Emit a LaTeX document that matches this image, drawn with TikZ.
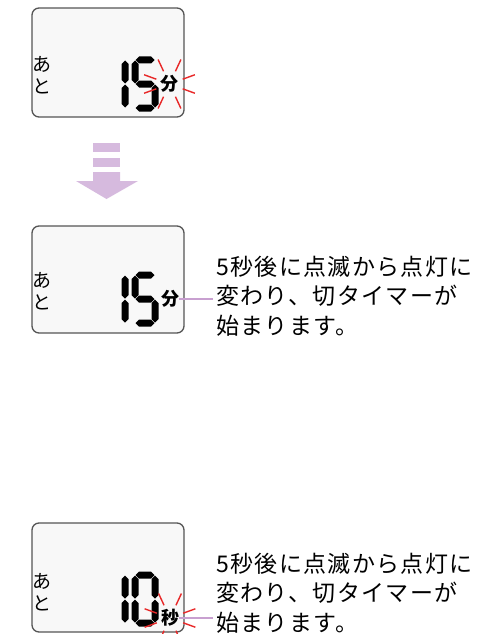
\documentclass[tikz,border=0pt]{standalone}
\usepackage{fontspec}
\newfontfamily\jpfont{Noto Sans CJK JP}
\newfontfamily\notefont[LetterSpace=6]{Noto Sans CJK JP}
\usetikzlibrary{positioning}

\definecolor{lcdline}{RGB}{85,85,85}
\definecolor{lcdfill}{RGB}{248,248,248}
\definecolor{blinkred}{RGB}{232,40,40}
\definecolor{stepmauve}{RGB}{214,186,222}
\definecolor{leadmauve}{RGB}{200,160,208}

% LCD segments: start (x,y), length
\newcommand{\lcdh}[3]{\fill ({#1+0.5},#2) -- ++(3.5,-3.5) -- ++({#3-8},0) -- ++(3.5,3.5) -- ++(-3.5,3.5) -- ++({8-#3},0) -- cycle;}
\newcommand{\lcdv}[3]{\fill (#1,{#2+0.5}) -- ++(3.5,3.5) -- ++(0,{#3-8}) -- ++(-3.5,3.5) -- ++(-3.5,-3.5) -- ++(0,{8-#3}) -- cycle;}

\begin{document}
\begin{tikzpicture}[
    x=1pt, y=-1pt,
    lcd/.style={draw=lcdline, line width=1.3pt, fill=lcdfill, rounded corners=7pt, minimum width=152pt, inner sep=0pt},
    ato/.style={font=\jpfont\fontsize{19}{22}\selectfont, align=center, inner sep=0pt},
    unit/.style={font=\jpfont\bfseries\fontsize{18}{18}\selectfont, inner sep=0pt},
    note/.style={font=\notefont\fontsize{23}{29.5}\selectfont, align=left, anchor=west, inner xsep=3pt, inner ysep=0pt},
    ray/.style={draw=blinkred, line width=1.4pt},
    lead/.style={draw=leadmauve, line width=1.6pt}
]

% FIXED BOUNDING BOX
\useasboundingbox (0,0) rectangle (482,634);

% display 1: blinking minutes
\node[lcd, minimum height=109pt] (lcd1) at (108,62.5) {};
\node[ato] (ato1) at (42,75) {あ\\と};
\lcdv{125}{60}{24} \lcdv{125}{84}{24}
\lcdh{135}{60}{20} \lcdv{135}{60}{24} \lcdh{135}{84}{20} \lcdv{155}{84}{24} \lcdh{135}{108}{20}
\node[unit] (min1) at (169.5,84) {分};
\foreach \a in {20,65,115,160,200,245,295,340}
  \draw[ray] (min1.center) ++(\a:14) -- ++(\a:13);

% step arrow
\fill[stepmauve] (93,143) rectangle (120,152);
\fill[stepmauve] (93,158) rectangle (120,167);
\fill[stepmauve] (93,172) -- (120,172) -- (120,181) -- (138,181) -- (106.5,199) -- (76,181) -- (93,181) -- cycle;

% display 2: steady minutes
\node[lcd, minimum height=107pt] (lcd2) at (108,279.5) {};
\node[ato] (ato2) at (42,291.5) {あ\\と};
\lcdv{125}{275}{24} \lcdv{125}{299}{24}
\lcdh{135}{275}{20} \lcdv{135}{275}{24} \lcdh{135}{299}{20} \lcdv{155}{299}{24} \lcdh{135}{323}{20}
\node[unit] (min2) at (170,299) {分};
\node[note] (note2) at (213,296) {5秒後に点滅から点灯に\\変わり、切タイマーが\\始まります。};
\draw[lead] (min2.east) -- (min2.east -| note2.west);

% display 3: blinking seconds
\node[lcd, minimum height=109pt] (lcd3) at (108,577.5) {};
\node[ato] (ato3) at (42,592) {あ\\と};
\lcdv{125}{575}{24} \lcdv{125}{599}{24}
\lcdh{135}{575}{20} \lcdv{155}{575}{24} \lcdv{155}{599}{24} \lcdh{135}{623}{20} \lcdv{135}{599}{24} \lcdv{135}{575}{24}
\node[unit] (sec3) at (170,618) {秒};
\foreach \a in {20,65,115,160,200,245,295,340}
  \draw[ray] (sec3.center) ++(\a:14) -- ++(\a:13);
\node[note] (note3) at (213,593) {5秒後に点滅から点灯に\\変わり、切タイマーが\\始まります。};
\draw[lead] (sec3.east) -- (sec3.east -| note3.west);

\end{tikzpicture}
\end{document}
